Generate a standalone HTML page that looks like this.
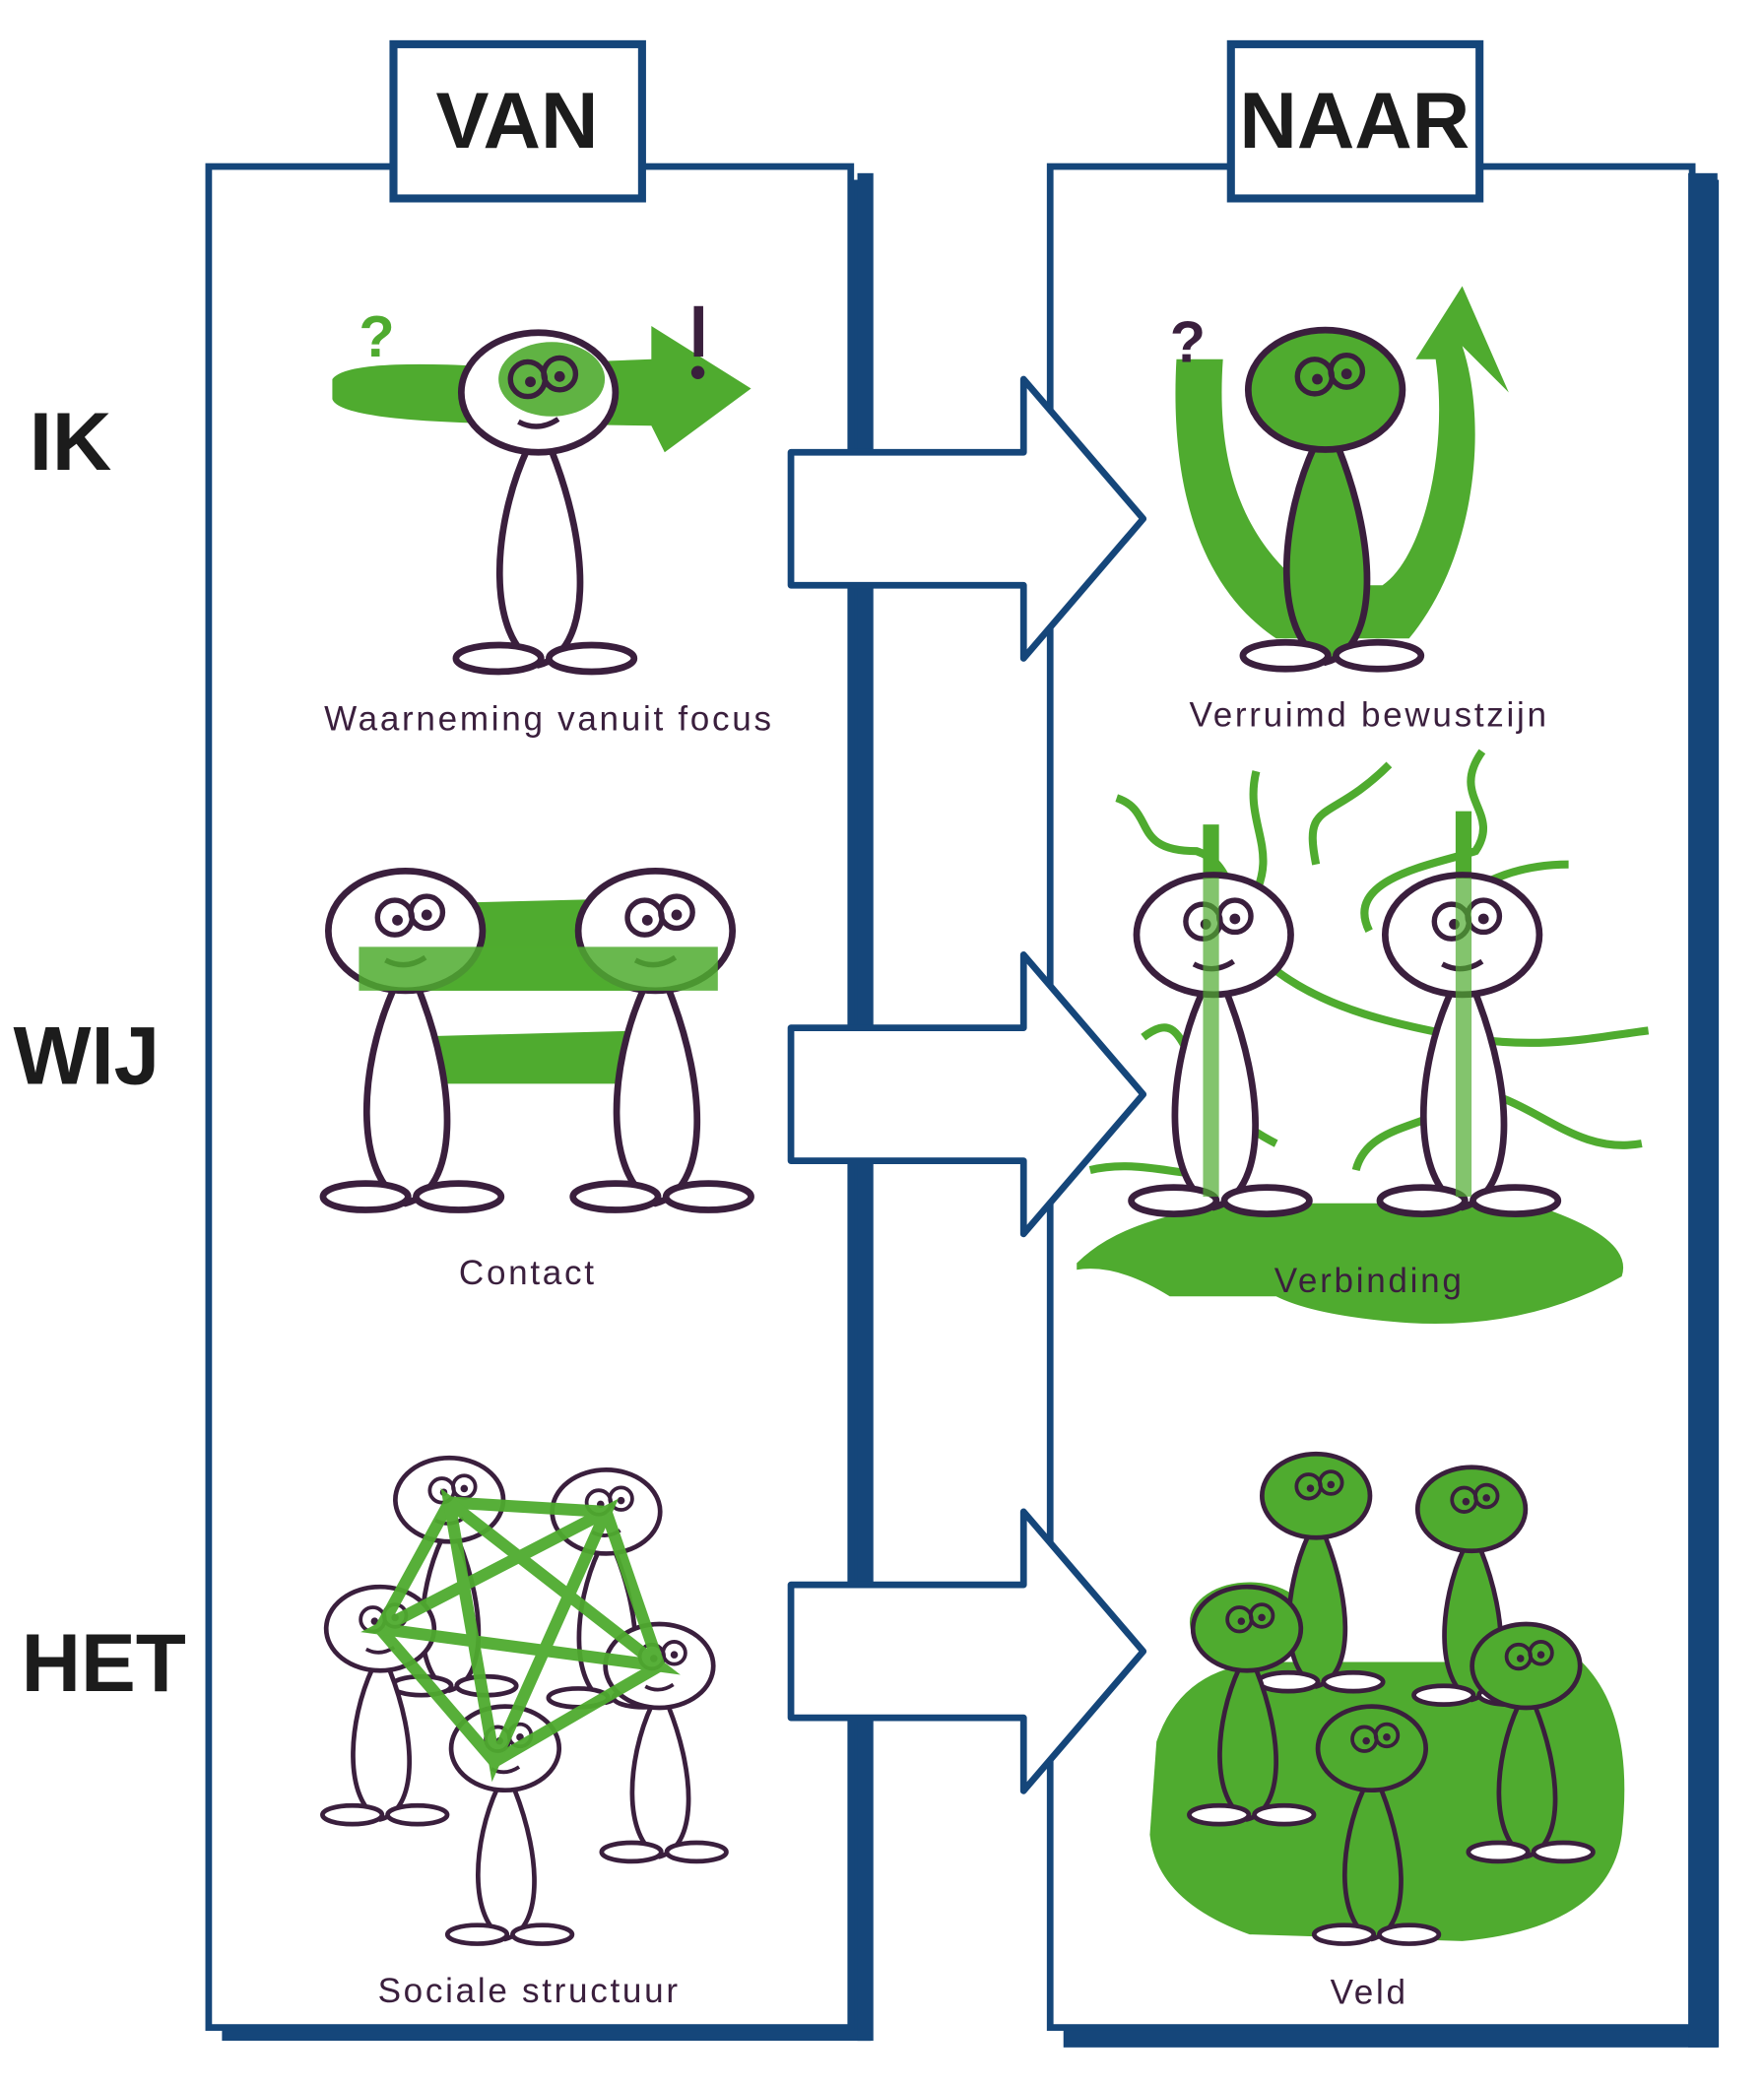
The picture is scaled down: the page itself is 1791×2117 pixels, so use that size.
<!DOCTYPE html>
<html><head><meta charset="utf-8"><style>
html,body{margin:0;padding:0;background:#fff;width:1791px;height:2117px;overflow:hidden}
svg{display:block}
text{font-family:"Liberation Sans",sans-serif}
</style></head><body>
<svg width="1791" height="2117" viewBox="0 0 1327 1568" xmlns="http://www.w3.org/2000/svg">
<defs>
<g id="fig">
 <path d="M-8,42 C-35,100 -40,185 0,205 C40,195 40,120 10,44" fill="#fff" stroke="#3a1f3d" stroke-width="5"/>
 <ellipse cx="-30" cy="200" rx="32" ry="10" fill="#fff" stroke="#3a1f3d" stroke-width="5"/>
 <ellipse cx="40" cy="200" rx="32" ry="10" fill="#fff" stroke="#3a1f3d" stroke-width="5"/>
 <ellipse cx="0" cy="0" rx="58" ry="45" fill="#fff" stroke="#3a1f3d" stroke-width="5"/>
 <circle cx="-8" cy="-10" r="13" fill="none" stroke="#3a1f3d" stroke-width="4"/>
 <circle cx="16" cy="-14" r="12" fill="none" stroke="#3a1f3d" stroke-width="4"/>
 <circle cx="-6" cy="-8" r="4" fill="#3a1f3d"/><circle cx="16" cy="-12" r="4" fill="#3a1f3d"/>
 <path d="M-15,22 Q0,30 15,20" fill="none" stroke="#3a1f3d" stroke-width="4"/>
</g>
<g id="figg">
 <path d="M-8,42 C-35,100 -40,185 0,205 C40,195 40,120 10,44" fill="#4fab2f" stroke="#3a1f3d" stroke-width="5"/>
 <ellipse cx="-30" cy="200" rx="32" ry="10" fill="#fff" stroke="#3a1f3d" stroke-width="5"/>
 <ellipse cx="40" cy="200" rx="32" ry="10" fill="#fff" stroke="#3a1f3d" stroke-width="5"/>
 <ellipse cx="0" cy="0" rx="58" ry="45" fill="#4fab2f" stroke="#3a1f3d" stroke-width="5"/>
 <circle cx="-8" cy="-10" r="13" fill="none" stroke="#3a1f3d" stroke-width="4"/>
 <circle cx="16" cy="-14" r="12" fill="none" stroke="#3a1f3d" stroke-width="4"/>
 <circle cx="-6" cy="-8" r="4" fill="#3a1f3d"/><circle cx="16" cy="-12" r="4" fill="#3a1f3d"/>
</g>
<g id="arr">
 <path d="M595,0 L770,0 L770,-55 L860,50 L770,155 L770,100 L595,100 Z" fill="#fff" stroke="#15467a" stroke-width="5" stroke-linejoin="round"/>
</g>
</defs>

<!-- panels -->
<rect x="167" y="135" width="488" height="1400" fill="#15467a"/>
<rect x="157" y="125" width="483" height="1400" fill="#fff" stroke="#15467a" stroke-width="5"/>
<rect x="800" y="135" width="493" height="1405" fill="#15467a"/>
<rect x="790" y="125" width="483" height="1400" fill="#fff" stroke="#15467a" stroke-width="5"/>
<rect x="645" y="130" width="12" height="1405" fill="#15467a"/>
<rect x="1270" y="130" width="22" height="1410" fill="#15467a"/>

<rect x="296" y="33" width="187" height="116" fill="#fff" stroke="#15467a" stroke-width="6"/>
<text x="389" y="111" text-anchor="middle" font-size="60" font-weight="bold" fill="#1c1c1c">VAN</text>
<rect x="926" y="33" width="187" height="116" fill="#fff" stroke="#15467a" stroke-width="6"/>
<text x="1019" y="111" text-anchor="middle" font-size="60" font-weight="bold" fill="#1c1c1c">NAAR</text>

<text x="22" y="353" font-size="62" font-weight="bold" fill="#1c1c1c">IK</text>
<text x="10" y="815" font-size="62" font-weight="bold" fill="#1c1c1c">WIJ</text>
<text x="16" y="1272" font-size="62" font-weight="bold" fill="#1c1c1c">HET</text>

<!-- arrows -->
<use href="#arr" y="340"/>
<use href="#arr" y="773"/>
<use href="#arr" y="1192"/>

<!-- IK left -->
<path d="M250,285 Q260,270 360,275 L490,270 L490,245 L565,292 L500,340 L490,320 L360,318 Q255,315 250,300 Z" fill="#4fab2f"/>
<text x="270" y="268" font-size="44" font-weight="bold" fill="#4fab2f">?</text>
<rect x="522" y="230" width="7" height="38" fill="#3a1f3d"/><circle cx="525" cy="280" r="5" fill="#3a1f3d"/>
<use href="#fig" x="405" y="295"/>
<ellipse cx="415" cy="285" rx="40" ry="28" fill="#4fab2f" opacity="0.9"/>
<circle cx="397" cy="285" r="13" fill="none" stroke="#3a1f3d" stroke-width="4"/><circle cx="421" cy="281" r="12" fill="none" stroke="#3a1f3d" stroke-width="4"/>
<circle cx="399" cy="287" r="4" fill="#3a1f3d"/><circle cx="421" cy="283" r="4" fill="#3a1f3d"/>
<text x="413" y="549" text-anchor="middle" font-size="26" fill="#3a1f3d" letter-spacing="2">Waarneming vanuit focus</text>

<!-- IK right -->
<path d="M885,270 C880,360 900,440 960,480 L1060,480 C1110,420 1120,320 1100,260 L1135,295 L1100,215 L1065,270 L1080,270 C1090,340 1070,420 1040,440 L980,440 C930,400 915,340 920,270 Z" fill="#4fab2f"/>
<text x="880" y="272" font-size="44" font-weight="bold" fill="#3a1f3d">?</text>
<use href="#figg" x="997" y="293"/>
<text x="1030" y="546" text-anchor="middle" font-size="26" fill="#3a1f3d" letter-spacing="2">Verruimd bewustzijn</text>

<!-- WIJ left -->
<path d="M300,680 L500,675 L505,745 L300,745 Z" fill="#4fab2f"/>
<path d="M295,780 L485,775 Q495,800 485,815 L295,815 Z" fill="#4fab2f"/>
<use href="#fig" x="305" y="700"/>
<use href="#fig" x="493" y="700"/>
<path d="M270,712 L540,712 L540,745 L270,745 Z" fill="#4fab2f" opacity="0.85"/>
<text x="397" y="966" text-anchor="middle" font-size="26" fill="#3a1f3d" letter-spacing="2">Contact</text>

<!-- WIJ right -->
<path d="M810,950 Q850,910 950,905 L1150,905 Q1230,930 1220,960 Q1150,1000 1060,995 Q990,990 960,975 L880,975 Q840,950 810,955 Z" fill="#4fab2f"/>
<g fill="none" stroke="#4fab2f" stroke-width="6">
<path d="M840,600 C870,610 850,640 900,640 C930,650 920,680 950,690"/>
<path d="M945,580 C935,620 965,640 940,680"/>
<path d="M1045,575 C1000,620 980,600 990,650"/>
<path d="M1115,565 C1090,600 1130,610 1110,640 C1080,650 1010,660 1030,700"/>
<path d="M1180,650 C1120,650 1100,680 1060,690"/>
<path d="M960,730 C1000,760 1050,770 1100,780 C1160,790 1200,780 1240,775"/>
<path d="M860,780 C900,750 880,820 960,860"/>
<path d="M1020,880 C1030,840 1090,850 1100,820 C1150,820 1180,870 1235,860"/>
<path d="M820,880 C860,870 900,890 920,880"/>
</g>
<rect x="905" y="620" width="12" height="280" fill="#4fab2f"/>
<rect x="1095" y="610" width="12" height="290" fill="#4fab2f"/>
<use href="#fig" x="913" y="703"/>
<use href="#fig" x="1100" y="703"/>
<rect x="905" y="660" width="12" height="240" fill="#4fab2f" opacity="0.7"/>
<rect x="1095" y="660" width="12" height="240" fill="#4fab2f" opacity="0.7"/>
<text x="1030" y="972" text-anchor="middle" font-size="26" fill="#3a1f3d" letter-spacing="2">Verbinding</text>

<!-- HET left -->
<g transform="translate(0,0)">
<use href="#fig" transform="translate(338,1128) scale(0.7)"/>
<use href="#fig" transform="translate(456,1137) scale(0.7)"/>
<use href="#fig" transform="translate(286,1225) scale(0.7)"/>
<use href="#fig" transform="translate(496,1253) scale(0.7)"/>
<use href="#fig" transform="translate(380,1315) scale(0.7)"/>
</g>
<g fill="none" stroke="#4fab2f" stroke-width="9" opacity="0.95">
<path d="M338,1130 L456,1137 L496,1253 L372,1325 L286,1225 Z"/>
<path d="M338,1130 L372,1325 L456,1137 L286,1225 L496,1253 Z"/>
</g>
<text x="398" y="1506" text-anchor="middle" font-size="26" fill="#3a1f3d" letter-spacing="2">Sociale structuur</text>

<!-- HET right -->
<path d="M870,1310 Q890,1250 960,1250 L1190,1250 Q1230,1290 1220,1380 Q1210,1450 1100,1460 L940,1455 Q870,1430 865,1380 Z" fill="#4fab2f"/>
<ellipse cx="940" cy="1220" rx="45" ry="30" fill="#4fab2f"/>
<use href="#figg" transform="translate(990,1125) scale(0.7)"/>
<use href="#figg" transform="translate(1107,1135) scale(0.7)"/>
<use href="#figg" transform="translate(938,1225) scale(0.7)"/>
<use href="#figg" transform="translate(1148,1253) scale(0.7)"/>
<use href="#figg" transform="translate(1032,1315) scale(0.7)"/>
<text x="1030" y="1507" text-anchor="middle" font-size="26" fill="#3a1f3d" letter-spacing="2">Veld</text>
</svg>
</body></html>
